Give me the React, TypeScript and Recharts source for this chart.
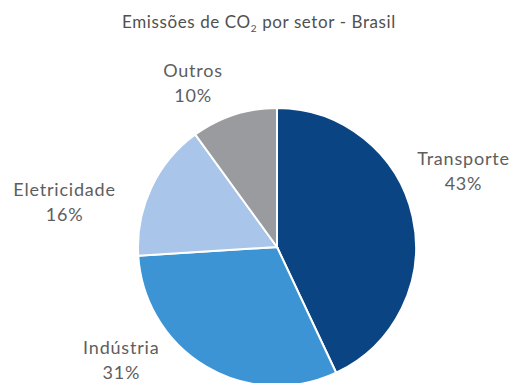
import React from "react";
import { PieChart, Pie, Cell } from "recharts";

const sectors = ["Transporte", "Indústria", "Eletricidade", "Outros"];
const shares = [43, 31, 16, 10];
const colors = ["#0b4483", "#3c94d4", "#a9c5ea", "#9a9b9e"];

// label placement tweaks (degrees added to slice mid angle, distance from center)
const labelAngleShift = [9.3, -23.2, 13.5, 9.3];
const labelDistance = [201, 193, 217, 183];

const data = sectors.map((name, i) => ({ name, value: shares[i] }));

const RADIAN = Math.PI / 180;

function renderLabel(props: any) {
  const { cx, cy, midAngle, index } = props;
  const angle = midAngle + labelAngleShift[index];
  const r = labelDistance[index];
  const x = cx + r * Math.cos(-angle * RADIAN);
  const y = cy + r * Math.sin(-angle * RADIAN);
  return (
    <text
      x={x}
      y={y}
      textAnchor="middle"
      fill="#5e5e5e"
      fontSize={18}
      letterSpacing={0.8}
      fontFamily="Lato, sans-serif"
    >
      <tspan x={x} y={y - 12} dominantBaseline="middle">
        {data[index].name}
      </tspan>
      <tspan x={x} y={y + 13} dominantBaseline="middle">
        {data[index].value}%
      </tspan>
    </text>
  );
}

export default function App() {
  return (
    <div style={{ position: "relative", width: 518, height: 383, background: "#fff", overflow: "hidden" }}>
      <style>{`body{margin:0}`}</style>
      <div
        style={{
          position: "absolute",
          top: 11,
          left: 0,
          width: 518,
          textAlign: "center",
          fontFamily: "Lato, sans-serif",
          fontSize: 17,
          letterSpacing: 0.6,
          color: "#505050",
          lineHeight: "22px",
        }}
      >
        Emissões de CO<sub style={{ fontSize: 10, lineHeight: 0 }}>2</sub> por setor - Brasil
      </div>
      <PieChart width={518} height={383}>
        <Pie
          data={data}
          dataKey="value"
          nameKey="name"
          cx={272}
          cy={242}
          outerRadius={139}
          startAngle={90}
          endAngle={-270}
          stroke="#ffffff"
          strokeWidth={2}
          label={renderLabel}
          labelLine={false}
          isAnimationActive={false}
        >
          {data.map((d, i) => (
            <Cell key={d.name} fill={colors[i]} />
          ))}
        </Pie>
      </PieChart>
    </div>
  );
}
